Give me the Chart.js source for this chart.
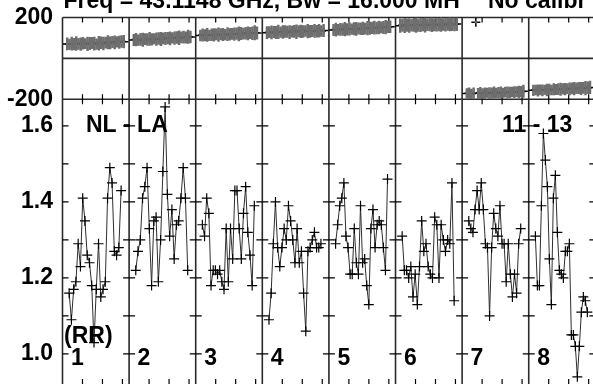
<!DOCTYPE html>
<html>
<head>
<meta charset="utf-8">
<script src="https://cdn.jsdelivr.net/npm/chart.js@4.4.0/dist/chart.umd.min.js"></script>
<style>
  html, body { margin: 0; padding: 0; background: #fff; overflow: hidden; }
  canvas { display: block; }
</style>
</head>
<body>
<canvas id="vplot" width="593" height="384"></canvas>
<script>
// amplitude, one array per time panel (RR, NL - LA)
const amp1 = [1.16, 1.09, 1.17, 1.19, 1.29, 1.23, 1.41, 1.35, 1.26, 1.24, 1.18, 1.03, 1.17, 1.29, 1.15, 1.17, 1.19, 1.41, 1.49, 1.45, 1.27, 1.26, 1.28, 1.43];
const amp2 = [1.22, 1.27, 1.30, 1.41, 1.44, 1.49, 1.33, 1.18, 1.35, 1.36, 1.19, 1.30, 1.48, 1.65, 1.42, 1.31, 1.38, 1.25, 1.34, 1.35, 1.41, 1.49, 1.41, 1.22];
const amp3 = [1.34, 1.31, 1.41, 1.37, 1.18, 1.22, 1.22, 1.21, 1.22, 1.19, 1.17, 1.33, 1.19, 1.33, 1.25, 1.43, 1.43, 1.33, 1.25, 1.37, 1.44, 1.32, 1.26, 1.18, 1.39];
const amp4 = [1.09, 1.16, 1.29, 1.40, 1.28, 1.23, 1.28, 1.33, 1.30, 1.39, 1.35, 1.30, 1.24, 1.33, 1.24, 1.27, 1.16, 1.06, 1.27, 1.28, 1.30, 1.32, 1.28, 1.28, 1.29];
const amp5 = [1.29, 1.34, 1.39, 1.41, 1.45, 1.31, 1.28, 1.21, 1.21, 1.33, 1.24, 1.21, 1.39, 1.24, 1.25, 1.18, 1.13, 1.33, 1.38, 1.28, 1.34, 1.35, 1.34, 1.28, 1.22, 1.46];
const amp6 = [1.31, 1.22, 1.22, 1.20, 1.23, 1.15, 1.21, 1.13, 1.23, 1.35, 1.27, 1.29, 1.23, 1.21, 1.20, 1.36, 1.34, 1.20, 1.34, 1.30, 1.27, 1.30, 1.29, 1.45, 1.14];
const amp7 = [1.35, 1.33, 1.32, 1.38, 1.43, 1.38, 1.45, 1.38, 1.29, 1.28, 1.10, 1.28, 1.37, 1.33, 1.31, 1.39, 1.29, 1.29, 1.19, 1.29, 1.21, 1.15, 1.21, 1.16, 1.29, 1.33];
const amp8 = [1.31, 1.18, 1.18, 1.39, 1.58, 1.51, 1.44, 1.25, 1.13, 1.41, 1.47, 1.32, 1.22, 1.21, 1.20, 1.27, 1.27, 1.29, 1.05, 1.05, 1.02, 0.94, 1.02, 1.11, 1.15, 1.14, 1.11];

// phase (deg) per panel
const phase1 = [71, 69, 72, 70, 73, 71, 70, 74, 72, 71, 73, 75, 72, 70, 74, 76, 73, 77, 79, 76, 80, 78, 81, 79, 83, 82];
const phase2 = [90, 92, 89, 93, 91, 94, 92, 95, 93, 96, 94, 97, 95, 98, 97, 99, 98, 100, 99, 102, 101, 103, 104, 102, 106, 105];
const phase3 = [112, 114, 113, 115, 113, 116, 115, 117, 116, 118, 117, 116, 119, 118, 120, 119, 121, 120, 122, 121, 123, 122, 124, 123, 125, 124];
const phase4 = [126, 128, 127, 129, 127, 130, 128, 129, 131, 130, 129, 131, 132, 130, 133, 132, 131, 134, 133, 132, 134, 135, 133, 135, 134, 136];
const phase5 = [139, 141, 140, 142, 141, 143, 142, 144, 143, 145, 144, 146, 145, 147, 146, 148, 147, 149, 150, 149, 151, 152, 151, 153, 154, 155];
const phase6 = [160, 162, 161, 163, 161, 162, 164, 163, 162, 164, 165, 163, 164, 166, 165, 164, 166, 165, 167, 166, 165, 167, 168, 166, 167, 168];
const phase7 = [-172, -171, -173, -170, 177, -171, -169, -172, -170, -168, -170, -169, -167, -169, -168, -166, -168, -165, -167, -166, -164, -165, -163, -164, -162, -161];
const phase8 = [-156, -155, -157, -154, -156, -153, -155, -152, -154, -151, -152, -150, -151, -149, -150, -148, -149, -147, -148, -146, -145, -147, -144, -145, -143, -142];

// phase error (deg)
const err1 = [30, 26, 32, 28, 34, 27, 31, 29, 25, 33, 30, 28, 32, 26, 34, 29, 31, 27, 33, 30, 28, 32, 26, 30, 29, 31];
const err2 = [28, 31, 26, 30, 33, 27, 29, 32, 28, 25, 31, 29, 33, 27, 30, 28, 32, 26, 31, 29, 34, 27, 30, 28, 33, 29];
const err3 = [27, 30, 28, 32, 26, 29, 31, 27, 33, 28, 30, 26, 32, 29, 27, 31, 28, 34, 30, 27, 29, 32, 28, 31, 35, 30];
const err4 = [29, 27, 32, 28, 30, 33, 26, 31, 29, 28, 32, 27, 30, 34, 28, 31, 29, 27, 33, 30, 28, 32, 29, 31, 27, 30];
const err5 = [28, 32, 27, 30, 29, 33, 28, 31, 26, 30, 32, 28, 29, 31, 27, 33, 30, 28, 32, 29, 31, 27, 30, 33, 28, 29];
const err6 = [33, 30, 35, 31, 34, 29, 32, 36, 30, 33, 31, 35, 29, 32, 34, 30, 33, 31, 35, 29, 32, 30, 34, 31, 33, 32];
const err7 = [24, 27, 23, 26, 4, 25, 28, 24, 26, 23, 27, 25, 28, 24, 26, 27, 23, 25, 28, 26, 24, 27, 25, 29, 26, 30];
const err8 = [26, 24, 28, 25, 27, 23, 29, 26, 24, 28, 25, 27, 30, 26, 28, 25, 29, 27, 31, 26, 28, 30, 27, 33, 29, 31];

const ampPanels = [amp1, amp2, amp3, amp4, amp5, amp6, amp7, amp8];
const phasePanels = [phase1, phase2, phase3, phase4, phase5, phase6, phase7, phase8];
const errPanels = [err1, err2, err3, err4, err5, err6, err7, err8];

const panelNames = ['1', '2', '3', '4', '5', '6', '7', '8'];
const ampTicks = [1.0, 1.2, 1.4, 1.6];
const ampMinor = [1.0, 1.1, 1.2, 1.3, 1.4, 1.5, 1.6];
const phaseTicks = [-200, 200];
const timeTicks = [0.3, 0.6, 0.9];

const titleText = 'Freq = 43.1148 GHz, Bw = 16.000 MH';
const titleTail = 'No calibr';
const baselineText = 'NL - LA';
const timeText = '11 - 13';
const polText = '(RR)';

const FONT = 'bold 23px "Liberation Sans", Arial, sans-serif';

// samples spread evenly across each panel
function panelX(p, i, n, a, b) {
    return p + a + (b - a) * i / (n - 1);
}

const ampData = [];
ampPanels.forEach((vals, p) => {
    vals.forEach((v, i) => ampData.push({x: panelX(p, i, vals.length, 0.1, 0.88), y: v}));
    ampData.push({x: p + 0.95, y: null});
});

const phPoints = [];
const phBars = [];
phasePanels.forEach((vals, p) => {
    vals.forEach((v, i) => {
        const x = panelX(p, i, vals.length, 0.07, 0.92);
        const e = errPanels[p][i];
        phPoints.push({x: x, y: v});
        phBars.push({x: x, y: [v - e, v + e]});
    });
});

// frame, panel lines and tick marks
const framePlugin = {
    id: 'frame',
    beforeDatasetsDraw(chart) {
        const {ctx, chartArea: a, scales} = chart;
        const xs = scales.x, ya = scales.yAmp, yp = scales.yPh;
        const sep = yp.getPixelForValue(-200);
        ctx.save();
        ctx.strokeStyle = '#2a2a2a';
        ctx.lineWidth = 1.6;
        ctx.beginPath();
        for (let k = 0; k <= 8; k++) {
            const px = xs.getPixelForValue(k);
            ctx.moveTo(px, a.top);
            ctx.lineTo(px, a.bottom);
        }
        [a.top, yp.getPixelForValue(0), sep].forEach(py => {
            ctx.moveTo(a.left, py);
            ctx.lineTo(a.right, py);
        });
        ctx.stroke();

        ctx.lineWidth = 1.2;
        ctx.strokeStyle = '#000';
        ctx.beginPath();
        for (let k = 0; k < 8; k++) {
            timeTicks.forEach(f => {
                const px = xs.getPixelForValue(k + f);
                ctx.moveTo(px, a.top); ctx.lineTo(px, a.top + 5);
                ctx.moveTo(px, sep - 5); ctx.lineTo(px, sep + 5);
                ctx.moveTo(px, a.bottom - 5); ctx.lineTo(px, a.bottom);
            });
        }
        for (let k = 0; k <= 8; k++) {
            const px = xs.getPixelForValue(k);
            ampMinor.forEach(v => {
                const py = ya.getPixelForValue(v);
                ctx.moveTo(k === 0 ? px : px - 6, py);
                ctx.lineTo(px + 6, py);
            });
        }
        ctx.stroke();
        ctx.restore();
    },
    afterDraw(chart) {
        const {ctx, scales} = chart;
        const xs = scales.x, ya = scales.yAmp;
        ctx.save();
        ctx.font = FONT;
        ctx.fillStyle = '#000';
        ctx.textBaseline = 'alphabetic';
        ctx.fillText(titleText, xs.getPixelForValue(0) + 1, 7.5);
        ctx.fillText(titleTail, 488, 7.5);
        ctx.fillText(baselineText, xs.getPixelForValue(0) + 23.5, ya.getPixelForValue(1.6) + 6);
        ctx.fillText(timeText, 502, ya.getPixelForValue(1.6) + 6);
        ctx.fillText(polText, xs.getPixelForValue(0) + 1.5, ya.getPixelForValue(1.0) - 11);
        panelNames.forEach((t, k) => {
            ctx.fillText(t, xs.getPixelForValue(k) + 8.5, ya.getPixelForValue(1.0) + 11);
        });
        ctx.restore();
    }
};

const tickFont = {family: '"Liberation Sans", Arial, sans-serif', size: 23, weight: 'bold'};

function fixWidth(s) {
    s.width = 62.5;
    s.paddingTop = 0;
    s.paddingBottom = 0;
}

new Chart(document.getElementById('vplot'), {
    type: 'scatter',
    data: {
        datasets: [
            {
                type: 'bar',
                data: phBars,
                yAxisID: 'yPh',
                backgroundColor: '#6e6e6e',
                barThickness: 1.8,
                grouped: false
            },
            {
                data: phPoints,
                yAxisID: 'yPh',
                pointStyle: 'cross',
                pointRadius: 4.5,
                borderColor: '#000',
                borderWidth: 1.5
            },
            {
                data: ampData,
                yAxisID: 'yAmp',
                showLine: true,
                borderColor: '#2e2e2e',
                borderWidth: 1,
                pointStyle: 'cross',
                pointRadius: 5,
                pointBorderColor: '#000',
                pointBorderWidth: 1.2
            }
        ]
    },
    options: {
        responsive: false,
        animation: false,
        devicePixelRatio: 1,
        layout: {autoPadding: false, padding: {top: 17.5, left: 0, right: 0, bottom: 0}},
        plugins: {legend: {display: false}, tooltip: {enabled: false}},
        scales: {
            x: {type: 'linear', min: 0, max: 7.965, offset: false, display: false},
            yAmp: {
                type: 'linear', position: 'left', stack: 'v', stackWeight: 284.7,
                min: 0.921, max: 1.670,
                afterBuildTicks: s => { s.ticks = ampTicks.map(v => ({value: v})); },
                afterFit: fixWidth,
                grid: {display: false, drawTicks: false},
                border: {display: false},
                ticks: {font: tickFont, color: '#000', padding: 9.5, autoSkip: false, callback: v => v.toFixed(1)}
            },
            yPh: {
                type: 'linear', position: 'left', stack: 'v', stackWeight: 81.8,
                min: -200, max: 200,
                afterBuildTicks: s => { s.ticks = phaseTicks.map(v => ({value: v})); },
                afterFit: fixWidth,
                grid: {display: false, drawTicks: false},
                border: {display: false},
                ticks: {font: tickFont, color: '#000', padding: 9.5, autoSkip: false, callback: v => String(v)}
            }
        }
    },
    plugins: [framePlugin]
});
</script>
</body>
</html>
